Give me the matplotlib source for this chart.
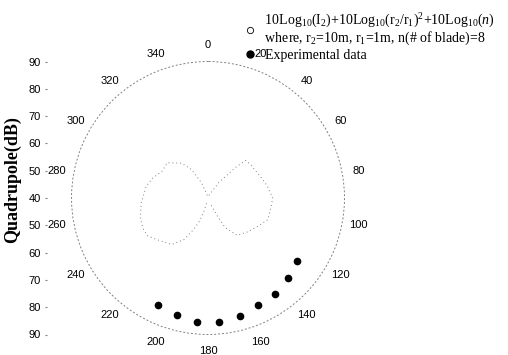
import matplotlib
matplotlib.use("Agg")
import matplotlib.pyplot as plt
import numpy as np
from matplotlib.lines import Line2D

plt.rcParams["font.family"] = "Liberation Sans"
plt.rcParams["mathtext.fontset"] = "custom"
plt.rcParams["mathtext.rm"] = "Liberation Serif"
plt.rcParams["mathtext.it"] = "Liberation Serif:italic"

# theory curve (dotted lobes): angle (deg), level (dB)
theory_left_deg = [345, 337, 330, 323, 311, 300, 290, 281, 266, 254, 245, 238, 231, 218, 210, 205, 200, 197, 193]
theory_left_db = [41, 46, 52, 56, 59.7, 59.5, 61.5, 63, 64.5, 65.8, 66.3, 66.1, 64.2, 61.6, 57.5, 53, 49, 45, 41]
theory_right_deg = [20, 35, 42, 45, 52, 60, 70, 79, 90, 99, 110, 120, 130, 142, 150, 153, 158]
theory_right_db = [41, 47, 55, 59.5, 59.8, 60.1, 61, 62.2, 63.7, 63.3, 63.3, 60.9, 59.2, 57.4, 52.4, 47, 42]

# experimental data
exp_deg = [125, 135, 145, 155, 165, 175, 185, 195, 205]
exp_db = [80.0, 81.2, 82.9, 83.4, 84.8, 85.5, 85.6, 84.4, 83.3]

theta_ticks = list(range(0, 360, 20))
r_min, r_max = 40, 90
ytick_pos = list(range(-5, 6))
ytick_labels = [str(r_min + 10 * abs(v)) for v in ytick_pos]

W, H = 508, 355
fig = plt.figure(figsize=(W / 100, H / 100), dpi=100)

cx, cy, R = 208, 198, 136.5
box = [(cx - R) / W, (H - cy - R) / H, 2 * R / W, 2 * R / H]
ax = fig.add_axes(box, projection="polar")
ax.set_theta_zero_location("N")
ax.set_theta_direction(-1)
ax.set_ylim(r_min, r_max)
ax.set_thetagrids(theta_ticks, [str(t) for t in theta_ticks], fontsize=8)
ax.set_rgrids([r_max], [""])
ax.grid(False)
ax.tick_params(axis="x", pad=1.5)
ax.spines["polar"].set_linestyle((0, (1, 3)))
ax.spines["polar"].set_color("0.5")
ax.spines["polar"].set_linewidth(0.7)

ax.plot(np.deg2rad(theory_left_deg), theory_left_db, linestyle=(0, (1, 3)), color="0.5", lw=0.7)
ax.plot(np.deg2rad(theory_right_deg), theory_right_db, linestyle=(0, (1, 3)), color="0.5", lw=0.7)
ax.plot(np.deg2rad(exp_deg), exp_db, "o", color="black", ms=4.5, linestyle="none")

# left scale axis
axy = fig.add_axes([47 / W, box[1], 0.01, box[3]])
axy.set_ylim(-5, 5)
axy.set_yticks(ytick_pos)
axy.set_yticklabels(ytick_labels, fontsize=8)
axy.set_xticks([])
axy.patch.set_visible(False)
for s in axy.spines.values():
    s.set_visible(False)
axy.tick_params(axis="y", length=1.5, width=0.8, color="0.5", pad=3)

fig.text(12 / W, 1 - 180 / H, "Quadrupole(dB)", rotation=90, ha="center", va="center",
         fontsize=13, fontweight="bold", family="Liberation Serif")

theory_label = ("  10Log$_{10}$(I$_2$)+10Log$_{10}$(r$_2$/r$_1$)$^2$+10Log$_{10}$($n$)\n"
                "  where, r$_2$=10m, r$_1$=1m, n(# of blade)=8")
handles = [
    Line2D([], [], marker="o", mfc="white", mec="black", mew=0.6, ms=4.5, linestyle="none"),
    Line2D([], [], marker="o", color="black", ms=5, linestyle="none"),
]
leg = fig.legend(handles, [theory_label, "  Experimental data"], loc="upper left",
                 bbox_to_anchor=(236 / W, 1 - 5 / H), frameon=False,
                 prop={"family": "Liberation Serif", "size": 10},
                 handletextpad=0.1, handlelength=1.0, labelspacing=0.15, borderpad=0)
leg.get_texts()[0].set_linespacing(0.95)

fig.savefig("out.png", dpi=100)
